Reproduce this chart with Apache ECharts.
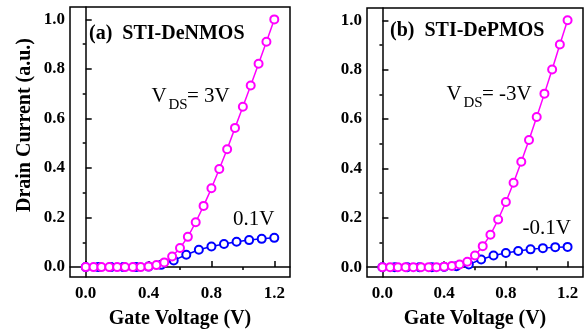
<!DOCTYPE html>
<html>
<head>
<meta charset="utf-8">
<script src="https://cdn.jsdelivr.net/npm/echarts@6/dist/echarts.min.js"></script>
<style>html,body{margin:0;padding:0;background:#fff}#c{width:587px;height:334px}</style>
</head>
<body>
<div id="c"></div>
<script>
// Gate voltage points
var xFine = [0,0.05,0.1,0.15,0.2,0.25,0.3,0.35,0.4,0.45,0.5,0.55,0.6,0.65,0.7,0.75,0.8,0.85,0.9,0.95,1.0,1.05,1.1,1.15,1.2];
var xCoarse = [0,0.08,0.16,0.24,0.32,0.40,0.48,0.56,0.64,0.72,0.80,0.88,0.96,1.04,1.12,1.20];
// (a) STI-DeNMOS
var nmos3V = [0,0,0,0,0,0,0,0,0.002,0.008,0.019,0.043,0.077,0.122,0.181,0.247,0.318,0.396,0.476,0.562,0.647,0.733,0.821,0.91,1.0];
var nmos01V = [0,0,0,0,0,0.002,0.009,0.027,0.050,0.070,0.083,0.093,0.102,0.109,0.114,0.118];
// (b) STI-DePMOS
var pmos3V = [0,0,0,0,0,0,0,0,0.002,0.005,0.011,0.022,0.047,0.085,0.131,0.193,0.264,0.342,0.427,0.515,0.608,0.703,0.801,0.902,1.0];
var pmos01V = [0,0,0,0,0,0.001,0.004,0.011,0.031,0.047,0.057,0.065,0.072,0.077,0.081,0.082];
// ticks
var xMajor = [0,0.4,0.8,1.2];
var xMinor = [0.2,0.6,1.0];
var yMajor = [0,0.2,0.4,0.6,0.8,1.0];
var yMinor = [0.1,0.3,0.5,0.7,0.9];

var FONT = "'Liberation Serif','Times New Roman',serif";
function pairs(xs, ys){ return xs.map(function(x,i){return [x, ys[i]];}); }

function xMain(gi){
  return {type:'value', gridIndex:gi, min:-0.1, max:1.3,
    axisLine:{lineStyle:{color:'#000',width:1.5}},
    axisTick:{inside:true,length:6,customValues:xMajor,lineStyle:{color:'#000',width:1.5}},
    axisLabel:{customValues:xMajor,margin:8,color:'#000',fontFamily:FONT,fontWeight:'bold',fontSize:17,formatter:function(v){return v.toFixed(1);}},
    splitLine:{show:false},
    name:'Gate Voltage (V)', nameLocation:'middle', nameGap:32,
    nameTextStyle:{color:'#000',fontFamily:FONT,fontWeight:'bold',fontSize:20}};
}
function xMin(gi){
  return {type:'value', gridIndex:gi, min:-0.1, max:1.3,
    axisLine:{show:false},
    axisTick:{inside:true,length:3,customValues:xMinor,lineStyle:{color:'#000',width:1.5}},
    axisLabel:{show:false}, splitLine:{show:false}};
}
function yMain(gi){
  return {type:'value', gridIndex:gi, min:-0.04, max:1.05,
    axisLine:{show:true,lineStyle:{color:'#000',width:1.5}},
    axisTick:{show:true,inside:true,length:6,customValues:yMajor,lineStyle:{color:'#000',width:1.5}},
    axisLabel:{customValues:yMajor,margin:5,color:'#000',fontFamily:FONT,fontWeight:'bold',fontSize:17,formatter:function(v){return v.toFixed(1);}},
    splitLine:{show:false}};
}
function yMin(gi){
  return {type:'value', gridIndex:gi, min:-0.04, max:1.05,
    axisLine:{show:false},
    axisTick:{show:true,inside:true,length:3,customValues:yMinor,lineStyle:{color:'#000',width:1.5}},
    axisLabel:{show:false}, splitLine:{show:false}};
}
function ser(xi, yi, data, color){
  return {type:'line', xAxisIndex:xi, yAxisIndex:yi, data:data,
    symbol:'emptyCircle', symbolSize:8, showSymbol:true,
    lineStyle:{color:color,width:1.5},
    itemStyle:{color:color,borderColor:color,borderWidth:1.5},
    emphasis:{disabled:true}, animation:false, z:2};
}

var chart = echarts.init(document.getElementById('c'), null, {renderer:'canvas'});
function txt(x, y, s, size, bold){
  return {type:'text', x:x, y:y, style:{text:s, fill:'#000', font:(bold?'bold ':'')+size+'px '+FONT, textAlign:'left', textVerticalAlign:'middle'}};
}
chart.setOption({
  animation:false,
  grid:[
    {left:70, top:7, width:220, height:270, show:true, borderColor:'#000', borderWidth:1.5, backgroundColor:'transparent'},
    {left:367, top:8, width:216, height:271, show:true, borderColor:'#000', borderWidth:1.5, backgroundColor:'transparent'}
  ],
  xAxis:[xMain(0), xMin(0), xMain(1), xMin(1)],
  yAxis:[yMain(0), yMin(0), yMain(1), yMin(1)],
  series:[
    ser(0,0,pairs(xCoarse,nmos01V),'#0000ff'),
    ser(0,0,pairs(xFine,nmos3V),'#ff00ff'),
    ser(2,2,pairs(xCoarse,pmos01V),'#0000ff'),
    ser(2,2,pairs(xFine,pmos3V),'#ff00ff')
  ],
  graphic:[
    {type:'text', x:25, y:125, rotation:Math.PI/2, style:{text:'Drain Current (a.u.)', fill:'#000', font:'bold 20px '+FONT, textAlign:'center', textVerticalAlign:'middle'}},
    txt(89, 33.5, '(a)  STI-DeNMOS', 20, true),
    txt(390, 31, '(b)  STI-DePMOS', 20, true),
    txt(151.5, 96, 'V', 21, false),
    txt(168.5, 105, 'DS', 15, false),
    txt(187, 96, '= 3V', 21, false),
    txt(233, 219, '0.1V', 21, false),
    txt(446.5, 94, 'V', 21, false),
    txt(463.5, 103, 'DS', 15, false),
    txt(482, 94, '= -3V', 21, false),
    txt(522.5, 228.5, '-0.1V', 21, false)
  ]
});
</script>
</body>
</html>
